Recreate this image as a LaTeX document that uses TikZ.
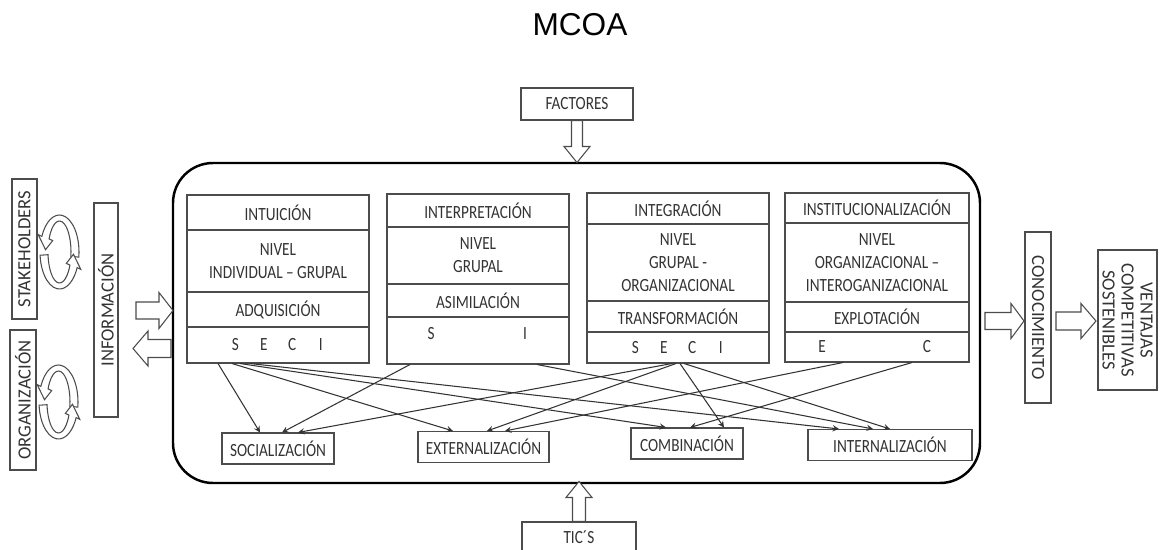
\documentclass[tikz,border=0pt]{standalone}
\usepackage{fontspec}
\setmainfont{Carlito}[FakeStretch=0.82]
\newfontfamily\sidefont{Carlito}
\newfontfamily\titlefont{Liberation Sans}
\usetikzlibrary{fit}

\newcommand{\seci}{\makebox[0.57cm]{S}\makebox[0.57cm]{E}\makebox[0.57cm]{C}\makebox[0.57cm]{I}}
% tail, angle, length, shaft half, head half, head length
\newcommand{\bigarrow}[6]{\draw[blockarrow, shift={#1}, rotate=#2] (0,-#4) -- ({#3-#6},-#4) -- ({#3-#6},-#5) -- (#3,0) -- ({#3-#6},#5) -- ({#3-#6},#4) -- (0,#4) -- cycle;}
% options, start, wing, tip angles
\newcommand{\looppiece}[4]{\draw[blockarrow, #1] (#2:19.5 and 37) arc[start angle=#2, end angle=#3, x radius=19.5, y radius=37] -- (#3:23.5 and 41) -- (#4:14 and 33) -- (#3:7.5 and 27) -- (#3:11.5 and 31) arc[start angle=#3, end angle=#2, x radius=11.5, y radius=31] -- cycle;}

\begin{document}
\begin{tikzpicture}[x=0.02cm, y=-0.02cm]
    % Styles
    \tikzstyle{cell} = [rectangle, draw=black!70, line width=0.6pt, minimum width=3.64cm, inner sep=0pt, align=center, font=\fontsize{10.6}{13.1}\selectfont, text=black!80]
    \tikzstyle{mode} = [cell, minimum width=0pt, minimum height=0.62cm]
    \tikzstyle{letters} = [inner sep=0pt, font=\fontsize{10.6}{13.1}\selectfont, text=black!80]
    \tikzstyle{side} = [rectangle, draw=black!70, line width=0.6pt, inner sep=0pt, align=center, font=\sidefont\fontsize{10.6}{10.8}\selectfont, text=black!80]
    \tikzstyle{frame} = [rectangle, draw=black, line width=1.4pt, rounded corners=0.8cm, inner sep=0pt]
    \tikzstyle{link} = [->, >=stealth, line width=0.6pt, black!80]
    \tikzstyle{blockarrow} = [draw=black!70, fill=white, line width=0.6pt]

    \useasboundingbox (0,0) rectangle (1161,550);

    % Title
    \node[font=\titlefont\fontsize{18}{20}\selectfont] (title) at (580,25) {MCOA};

    % Frame
    \node[frame, fit={(173,163) (980,483)}] (core) {};

    % Columns
    \node[cell, minimum height=0.70cm] (intui) at (278,212.5) {INTUICIÓN};
    \node[cell, minimum height=1.24cm] (nivA) at (278,261) {NIVEL\\INDIVIDUAL – GRUPAL};
    \node[cell, minimum height=0.70cm] (adqui) at (278,309.5) {ADQUISICIÓN};
    \node[cell, minimum height=0.72cm] (seciA) at (278,345) {\seci};

    \node[cell, minimum height=0.66cm] (inter) at (478,210.5) {INTERPRETACIÓN};
    \node[cell, minimum height=1.14cm] (nivB) at (478,255.5) {NIVEL\\GRUPAL};
    \node[cell, minimum height=0.66cm] (asimi) at (478,300.5) {ASIMILACIÓN};
    \node[cell, minimum height=0.94cm] (seciB) at (478,340.5) {};
    \node[letters] (siB) at (478,334) {\makebox[0.3cm]{S}\hspace{1.58cm}\makebox[0.3cm]{I}};

    \node[cell, minimum height=0.62cm] (integ) at (678,208.5) {INTEGRACIÓN};
    \node[cell, minimum height=1.54cm] (nivC) at (678,262.5) {NIVEL\\GRUPAL -\\ORGANIZACIONAL};
    \node[cell, minimum height=0.62cm] (trans) at (678,316.5) {TRANSFORMACIÓN};
    \node[cell, minimum height=0.62cm] (seciC) at (678,347.5) {\seci};

    \node[cell, minimum width=3.68cm, minimum height=0.60cm] (insti) at (877,208) {INSTITUCIONALIZACIÓN};
    \node[cell, minimum width=3.68cm, minimum height=1.58cm] (nivD) at (877,262.5) {NIVEL\\ORGANIZACIONAL –\\INTEROGANIZACIONAL};
    \node[cell, minimum width=3.68cm, minimum height=0.60cm] (explo) at (877,317) {EXPLOTACIÓN};
    \node[cell, minimum width=3.68cm, minimum height=0.60cm] (seciD) at (877,347) {\makebox[0.3cm]{E}\hspace{1.8cm}\makebox[0.3cm]{C}\hspace*{0.1cm}};

    % SECI modes
    \node[mode, minimum width=2.24cm] (soc) at (278,448.5) {SOCIALIZACIÓN};
    \node[mode, minimum width=2.62cm] (ext) at (483.5,447) {EXTERNALIZACIÓN};
    \node[mode, minimum width=2.24cm] (comb) at (687,443.5) {COMBINACIÓN};
    \node[mode, minimum width=3.28cm] (intern) at (890,445) {INTERNALIZACIÓN};

    % Outside boxes
    \node[mode, minimum width=2.24cm, minimum height=0.64cm] (fact) at (577,104) {FACTORES};
    \node[mode, minimum width=2.28cm, minimum height=0.60cm] (tics) at (579,537) {TIC´S};
    \node[side, rotate=90, minimum width=2.8cm, minimum height=0.5cm] (stake) at (24.5,249) {STAKEHOLDERS};
    \node[side, rotate=90, minimum width=2.8cm, minimum height=0.52cm] (orga) at (23,400) {ORGANIZACIÓN};
    \node[side, rotate=90, minimum width=4.28cm, minimum height=0.48cm] (info) at (106,310) {INFORMACIÓN};
    \node[side, rotate=-90, minimum width=3.42cm, minimum height=0.52cm] (cono) at (1038,317.5) {CONOCIMIENTO};
    \node[side, rotate=-90, minimum width=2.8cm, minimum height=1.18cm] (venta) at (1127.5,320) {VENTAJAS\\COMPETITIVAS\\SOSTENIBLES};

    % Arrows
    \draw[link] ([xshift=-1.2cm]seciA.south) -- ([xshift=-0.36cm]soc.north);
    \draw[link] ([xshift=-0.92cm]seciA.south) -- ([xshift=-0.61cm]ext.north);
    \draw[link] ([xshift=-0.76cm]seciA.south) -- ([xshift=-0.42cm]comb.north);
    \draw[link] ([xshift=-0.56cm]seciA.south) -- ([xshift=-1.02cm]intern.north);
    \draw[link] ([xshift=-1.36cm]seciB.south) -- ([xshift=0.08cm]soc.north);
    \draw[link] ([xshift=1.18cm]seciB.south) -- ([xshift=-0.34cm]intern.north);
    \draw[link] ([xshift=-0.12cm]seciC.south) -- ([xshift=0.4cm]soc.north);
    \draw[link] ([xshift=-0.04cm]seciC.south) -- ([xshift=0.07cm]ext.north);
    \draw[link] ([xshift=0.04cm]seciC.south) -- ([xshift=0.74cm]comb.north);
    \draw[link] ([xshift=0.12cm]seciC.south) -- (intern.north);
    \draw[link] ([xshift=-0.68cm]seciD.south) -- ([xshift=0.43cm]ext.north);
    \draw[link] ([xshift=0.7cm]seciD.south) -- ([xshift=0.06cm]comb.north);

    % Block arrows
    \bigarrow{(fact.south)}{-90}{42}{5.5}{13}{16}
    \bigarrow{(tics.north)}{90}{40}{6.5}{13}{16}
    \bigarrow{(136,310.5)}{0}{37}{8.5}{18}{14}
    \bigarrow{(171,348.5)}{180}{38}{9}{17.5}{15}
    \bigarrow{(985,321)}{0}{39}{8.5}{17.5}{13}
    \bigarrow{(1056,321)}{0}{40}{9}{17.5}{15}

    % Loops
    \begin{scope}[shift={(59.5,252)}]
        \looppiece{}{8}{-155}{-176}
        \looppiece{rotate=180}{-5}{-155}{-176}
    \end{scope}
    \begin{scope}[shift={(58.5,402)}]
        \looppiece{}{8}{-155}{-176}
        \looppiece{rotate=180}{-5}{-155}{-176}
    \end{scope}
\end{tikzpicture}
\end{document}
